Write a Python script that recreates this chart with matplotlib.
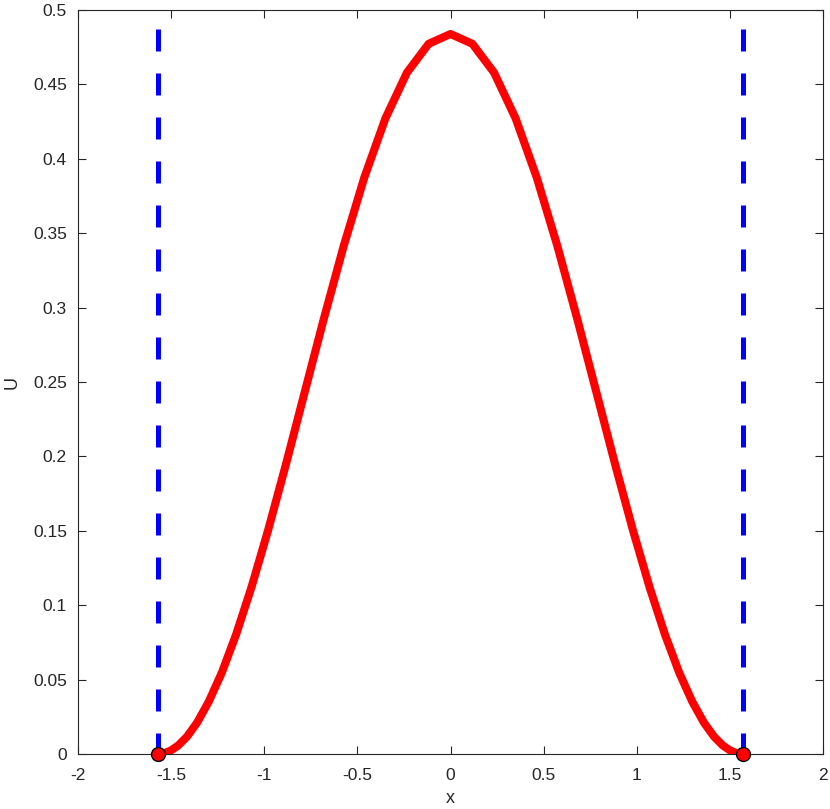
import matplotlib
matplotlib.use("Agg")
import matplotlib.pyplot as plt

# Chebyshev-like sample points of the curve on [-pi/2, pi/2] (denser near the ends)
x_half = [1.5708, 1.5664, 1.5533, 1.5314, 1.5010, 1.4622, 1.4152, 1.3604,
          1.2979, 1.2281, 1.1515, 1.0684, 0.9794, 0.8849, 0.7854, 0.6815,
          0.5739, 0.4630, 0.3495, 0.2341, 0.1174]
u_half = [0.0, 0.0000, 0.0001, 0.0008, 0.0024, 0.0057, 0.0116, 0.0211,
          0.0352, 0.0546, 0.0802, 0.1122, 0.1504, 0.1941, 0.2420, 0.2919,
          0.3413, 0.3874, 0.4272, 0.4579, 0.4773]
u_peak = 0.4839

x = [-v for v in x_half] + [0.0] + x_half[::-1]
u = u_half + [u_peak] + u_half[::-1]

# boundaries
x_bound = [-1.5708, 1.5708]
u_bound = [0.0, 0.0]
wall_top = 0.487

xticks = [-2, -1.5, -1, -0.5, 0, 0.5, 1, 1.5, 2]
xticklabels = ["-2", "-1.5", "-1", "-0.5", "0", "0.5", "1", "1.5", "2"]
yticks = [0, 0.05, 0.1, 0.15, 0.2, 0.25, 0.3, 0.35, 0.4, 0.45, 0.5]
yticklabels = ["0", "0.05", "0.1", "0.15", "0.2", "0.25", "0.3", "0.35",
               "0.4", "0.45", "0.5"]

plt.rcParams["font.family"] = ["Liberation Sans", "DejaVu Sans"]

fig = plt.figure(figsize=(8.3, 8.09), dpi=100)
ax = fig.add_axes([0.094, 0.068, 0.8976, 0.9196])

for xb in x_bound:
    ax.plot([xb, xb], [wall_top, 0], color="#0000ff", lw=3.6,
            dashes=(4.4, 4.4), solid_capstyle="butt", dash_capstyle="butt", zorder=2)

ax.plot(x, u, color="#ff0000", lw=5.8, zorder=3)
ax.plot(x_bound, u_bound, "o", color="#ff0000", markeredgecolor="black",
        markeredgewidth=1.0, markersize=10, zorder=4, clip_on=False)

ax.set_xlim(-2, 2)
ax.set_ylim(0, 0.5)
ax.set_xticks(xticks)
ax.set_xticklabels(xticklabels)
ax.set_yticks(yticks)
ax.set_yticklabels(yticklabels)
ax.tick_params(direction="in", length=6, width=0.8, top=True, right=True,
               labelsize=12.5, colors="#262626")
ax.tick_params(axis="x", pad=10)
ax.tick_params(axis="y", pad=8)
for s in ax.spines.values():
    s.set_color("#262626")
    s.set_linewidth(0.8)

ax.set_xlabel("x", fontsize=13, color="#262626", labelpad=5)
ax.set_ylabel("U", fontsize=13, color="#262626", labelpad=9)

plt.savefig("out.png", dpi=100)
